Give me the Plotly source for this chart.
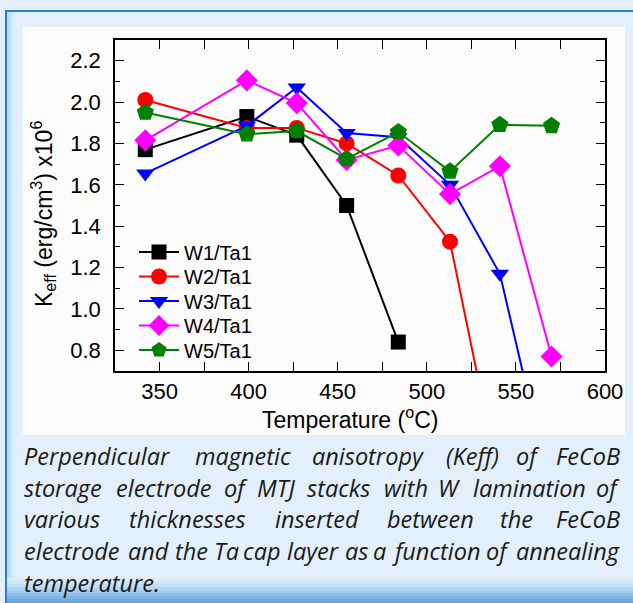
import plotly.graph_objects as go

# ---------------- data ----------------
temperature = [342, 399, 427, 455, 484, 513, 541, 570]
w1_ta1 = [1.77, 1.93, 1.84, 1.50, 0.84]
w2_ta1 = [2.01, 1.875, 1.875, 1.80, 1.645, 1.325, 0.15]
w3_ta1 = [1.655, 1.885, 2.07, 1.85, 1.83, 1.60, 1.17, 0.10]
w4_ta1 = [1.815, 2.105, 1.995, 1.72, 1.79, 1.555, 1.69, 0.77]
w5_ta1 = [1.95, 1.845, 1.86, 1.725, 1.855, 1.665, 1.89, 1.885]
series_names = ["W1/Ta1", "W2/Ta1", "W3/Ta1", "W4/Ta1", "W5/Ta1"]
series_values = [w1_ta1, w2_ta1, w3_ta1, w4_ta1, w5_ta1]

colors = ["#000000", "#ff0000", "#0000ff", "#ff00ff", "#008000"]
symbols = ["square", "circle", "triangle-down", "diamond", "pentagon"]
sizes = [15, 16, 16, 17, 18]

x_title = "Temperature (<sup>o</sup>C)"
y_title = "K<sub>eff</sub> (erg/cm<sup>3</sup>) x10<sup>6</sup>"
caption_lines = [
    "Perpendicular magnetic anisotropy (Keff) of FeCoB",
    "storage electrode of MTJ stacks with W lamination of",
    "various thicknesses inserted between the FeCoB",
    "electrode and the Ta cap layer as a function of annealing",
    "temperature.",
]

# ---------------- geometry helpers (pixels -> paper) ----------------
W, H = 633, 603
L, R, T, B = 115, 605, 40, 371


def pxx(px):
    return (px - L) / (R - L)


def pxy(py):
    return (B - py) / (B - T)


FONT = "Liberation Sans, Arial, sans-serif"

fig = go.Figure()
legend_names = ["legend", "legend2", "legend3", "legend4", "legend5"]
for i, (name, vals) in enumerate(zip(series_names, series_values)):
    fig.add_trace(go.Scatter(
        x=temperature[:len(vals)], y=vals, name=name, mode="lines+markers",
        line=dict(color=colors[i], width=2),
        marker=dict(symbol=symbols[i], size=sizes[i], color=colors[i],
                    line=dict(width=0)),
        legend=legend_names[i], cliponaxis=True,
    ))

# ---------------- background shapes ----------------
shapes = []
shapes.append(dict(type="rect", xref="paper", yref="paper",
                   x0=pxx(6), x1=pxx(700), y0=pxy(11), y1=pxy(700),
                   line=dict(color="#2c7fca", width=2), fillcolor="#e3f0fb",
                   layer="below"))
left_cols = ["#b9d9f2", "#c6e0f5", "#d2e7f7", "#dcecf9", "#e1eefa"]
for k, c in enumerate(left_cols):
    shapes.append(dict(type="rect", xref="paper", yref="paper",
                       x0=pxx(7 + 2 * k), x1=pxx(9 + 2 * k), y0=pxy(12), y1=pxy(700),
                       line=dict(width=0), fillcolor=c, layer="below"))
bot_cols = ["#dcecf9", "#d2e6f7", "#c4def4", "#b4d5f1", "#a2cbed", "#8fc0e9",
            "#7db5e5", "#6daae1", "#629fdc"]
for k, c in enumerate(bot_cols):
    shapes.append(dict(type="rect", xref="paper", yref="paper",
                       x0=pxx(7), x1=pxx(700), y0=pxy(578 + 3 * k),
                       y1=pxy(581 + 3 * k + (10 if k == len(bot_cols) - 1 else 0)),
                       line=dict(width=0), fillcolor=c, layer="below"))
shapes.append(dict(type="rect", xref="paper", yref="paper",
                   x0=pxx(23), x1=pxx(625), y0=pxy(27), y1=pxy(435),
                   line=dict(width=0), fillcolor="#fcfcfc", layer="below"))

# ---------------- caption: justified word placement ----------------
CAP_SIZE = 23.5
CHAR_W = {  # approx. Open Sans Italic advance widths (units / 2048)
    " ": 532, "(": 620, ")": 620, ".": 560,
    "a": 1230, "b": 1230, "c": 990, "d": 1230, "e": 1110, "f": 820, "g": 1120,
    "h": 1250, "i": 650, "k": 1100, "l": 650, "m": 1880, "n": 1250, "o": 1200,
    "p": 1230, "r": 880, "s": 960, "t": 840, "u": 1250, "v": 1050, "w": 1600,
    "x": 1080, "y": 1050,
    "P": 1220, "K": 1200, "F": 1060, "C": 1260, "B": 1280, "M": 1800, "T": 1120,
    "J": 620, "W": 1900,
}


def text_w(s):
    return sum(CHAR_W.get(ch, 1150) for ch in s) / 2048.0 * CAP_SIZE * 0.98


annotations = []
cap_font = dict(family="Open Sans, sans-serif", size=CAP_SIZE, color="#1a1a1a")
line_y = [456, 488, 519, 551, 583]
X0, X1 = 22, 622
for li, line in enumerate(caption_lines):
    words = line.split(" ")
    if li < 4:
        widths = [text_w(w_) for w_ in words]
        gap = (X1 - X0 - sum(widths)) / (len(words) - 1)
        xpos = X0
        for wi, (w_, ww) in enumerate(zip(words, widths)):
            if wi == len(words) - 1:
                annotations.append(dict(text="<i>%s</i>" % w_, x=pxx(X1), y=pxy(line_y[li]),
                                        xref="paper", yref="paper", xanchor="right",
                                        yanchor="middle", showarrow=False, font=cap_font))
            elif wi == 0:
                annotations.append(dict(text="<i>%s</i>" % w_, x=pxx(X0), y=pxy(line_y[li]),
                                        xref="paper", yref="paper", xanchor="left",
                                        yanchor="middle", showarrow=False, font=cap_font))
            else:
                annotations.append(dict(text="<i>%s</i>" % w_, x=pxx(xpos + ww / 2),
                                        y=pxy(line_y[li]), xref="paper", yref="paper",
                                        xanchor="center", yanchor="middle", showarrow=False,
                                        font=cap_font))
            xpos += ww + gap
    else:
        annotations.append(dict(text="<i>%s</i>" % line, x=pxx(X0), y=pxy(line_y[li]),
                                xref="paper", yref="paper", xanchor="left", yanchor="middle",
                                showarrow=False, font=cap_font))

# axis titles as annotations (placed like the original)
annotations.append(dict(text=x_title, x=pxx(350), y=pxy(418), xref="paper", yref="paper",
                        xanchor="center", yanchor="middle", showarrow=False,
                        font=dict(family=FONT, size=23, color="#000000")))
annotations.append(dict(text=y_title, x=pxx(43), y=pxy(214), xref="paper", yref="paper",
                        xanchor="center", yanchor="middle", showarrow=False, textangle=-90,
                        font=dict(family=FONT, size=23, color="#000000")))

# ---------------- legends ----------------
legend_y = [252, 276.5, 301, 325.5, 350]
legend_kw = {}
for i, ln in enumerate(legend_names):
    legend_kw[ln] = dict(x=pxx(134), xanchor="left", y=pxy(legend_y[i]), yanchor="middle",
                         bgcolor="rgba(0,0,0,0)", borderwidth=0, itemwidth=40,
                         font=dict(family=FONT, size=20, color="#000000"))

axis_common = dict(showline=True, linecolor="#000000", linewidth=1.5, mirror="ticks",
                   ticks="inside", ticklen=9, tickwidth=1.3, tickcolor="#000000",
                   showgrid=False, zeroline=False,
                   tickfont=dict(family=FONT, size=22, color="#000000"))

fig.update_layout(
    width=W, height=H,
    margin=dict(l=L, r=W - R, t=T, b=H - B, autoexpand=False),
    paper_bgcolor="#e3f0fb", plot_bgcolor="rgba(0,0,0,0)",
    showlegend=True,
    shapes=shapes, annotations=annotations,
    xaxis=dict(range=[325, 600], tick0=350, dtick=50,
               minor=dict(dtick=25, ticks="inside", ticklen=9, tickwidth=1.3, tickcolor="#000000"),
               ticklabelstandoff=0,
               **axis_common),
    yaxis=dict(range=[0.7, 2.3], tick0=0.8, dtick=0.2, tickformat=".1f",
               minor=dict(dtick=0.1, ticks="inside", ticklen=5, tickwidth=1.3, tickcolor="#000000"),
               ticklabelstandoff=8,
               **axis_common),
    **legend_kw,
)

fig.write_html("out.html")
